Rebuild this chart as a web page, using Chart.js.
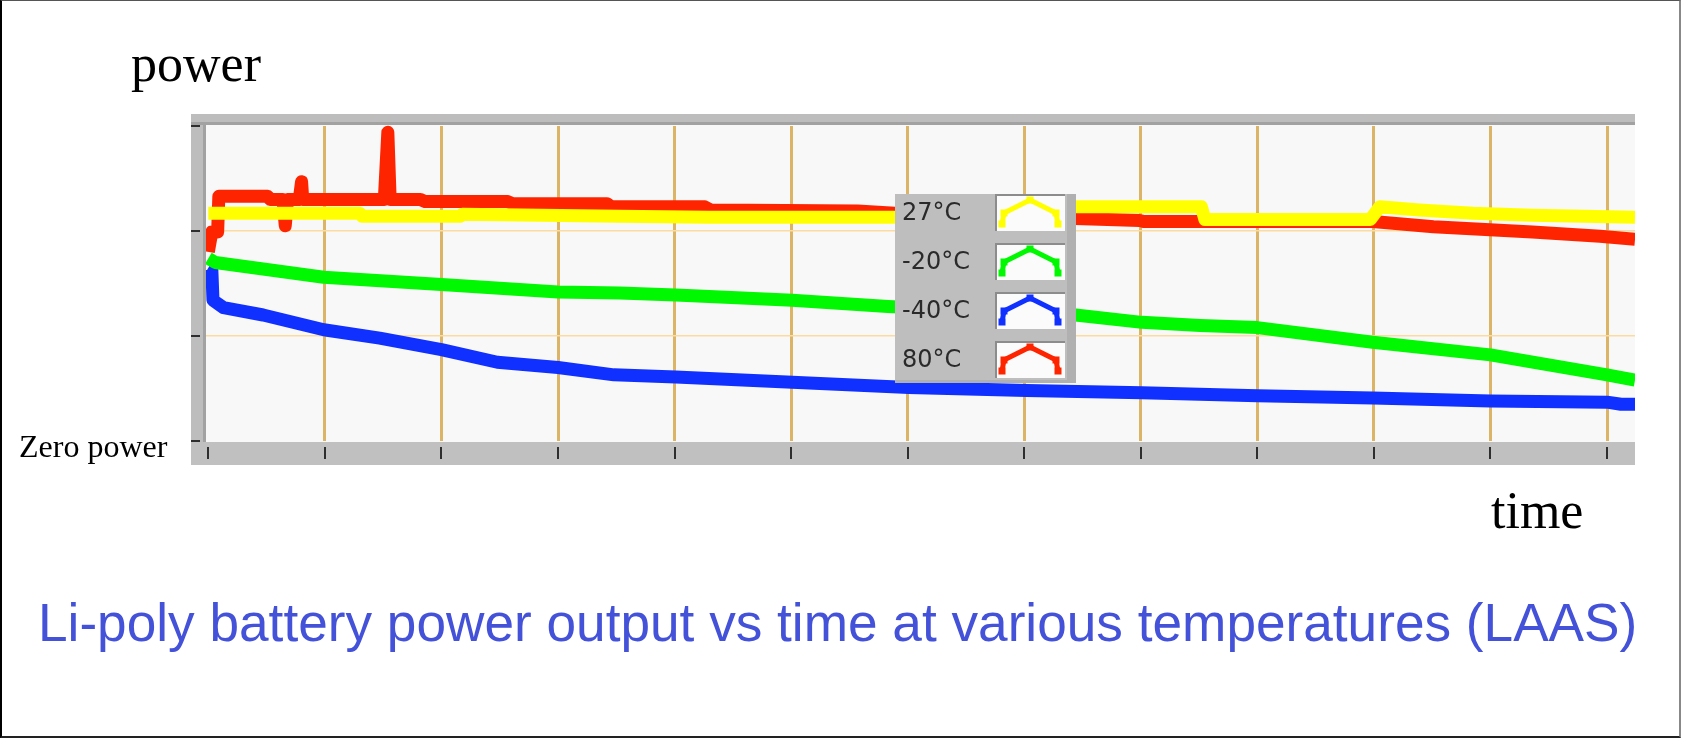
<!DOCTYPE html>
<html>
<head>
<meta charset="utf-8">
<title>Li-poly battery power output vs time</title>
<script src="https://cdn.jsdelivr.net/npm/chart.js@4.4.1/dist/chart.umd.min.js"></script>
<style>
  html, body { margin: 0; padding: 0; background: #fff; }
  #wrap { position: relative; width: 1682px; height: 739px; overflow: hidden; }
  #frame {
    position: absolute; left: 0; top: 0; width: 1677px; height: 735px;
    border-top: 1px solid #555; border-right: 2px solid #888;
    border-bottom: 2px solid #222; border-left: 2px solid #000;
  }
  #chart { position: absolute; left: 0; top: 0; }
  .lbl { position: absolute; white-space: nowrap; line-height: 1; }
  .serif { font-family: "Liberation Serif", "Times New Roman", serif; color: #000; }
  #yname { left: 131px; top: 38px; font-size: 52px; }
  #zero { left: 19px; top: 430px; font-size: 32px; }
  #xname { left: 1491px; top: 485px; font-size: 52px; }
  #caption {
    left: 38px; top: 596px; font-size: 53.2px; color: #4352d8;
    font-family: "Liberation Sans", Arial, sans-serif;
  }
</style>
</head>
<body>
<div id="wrap">
  <div id="frame"></div>
  <canvas id="chart" width="1682" height="739"></canvas>
  <div class="lbl serif" id="yname">power</div>
  <div class="lbl serif" id="zero">Zero power</div>
  <div class="lbl serif" id="xname">time</div>
  <div class="lbl" id="caption">Li-poly battery power output vs time at various temperatures (LAAS)</div>
</div>
<script>
// tick positions (no labels shown on the original axes)
const xTicks = [0, 1, 2, 3, 4, 5, 6, 7, 8, 9, 10, 11, 12];
const yTicks = [0, 1, 2, 3];

const seriesLabels = ['27°C', '-20°C', '-40°C', '80°C'];
const seriesColors = ['#ffff00', '#00f800', '#1030ff', '#ff2400'];

// 27°C
const time27 = [0, 1.30, 1.32, 2.16, 2.18, 3.53, 4.29, 5.89, 6.71, 8.52, 8.55, 9.97, 10.05, 10.39, 10.85, 11.36, 12.24];
const power27 = [2.17, 2.17, 2.14, 2.14, 2.16, 2.14, 2.13, 2.13, 2.23, 2.23, 2.11, 2.11, 2.23, 2.20, 2.17, 2.15, 2.13];

// -20°C
const timeM20 = [0, 0.06, 0.99, 2.00, 3.00, 3.53, 4.01, 5.01, 5.83, 7.44, 8.01, 8.51, 9.00, 9.99, 11.0, 12.0, 12.24];
const powerM20 = [1.74, 1.70, 1.56, 1.49, 1.42, 1.41, 1.39, 1.34, 1.28, 1.20, 1.13, 1.10, 1.08, 0.94, 0.82, 0.63, 0.58];

// -40°C
const timeM40 = [0, 0.03, 0.04, 0.13, 0.47, 0.99, 1.47, 2.00, 2.48, 3.00, 3.48, 4.01, 5.01, 6.01, 7.02, 8.01, 9.00, 9.99, 11.0, 12.0, 12.12, 12.24];
const powerM40 = [1.65, 1.63, 1.34, 1.27, 1.20, 1.06, 0.98, 0.87, 0.75, 0.70, 0.63, 0.61, 0.56, 0.51, 0.48, 0.46, 0.43, 0.41, 0.38, 0.37, 0.35, 0.35];

// 80°C
const time80 = [0, 0.03, 0.08, 0.09, 0.51, 0.53, 0.64, 0.66, 0.68, 0.78, 0.80, 0.81, 1.51, 1.54, 1.56, 1.82, 1.86, 2.57, 2.61, 3.42, 3.46, 4.26, 4.31, 5.57, 5.89, 7.44, 7.99, 8.03, 9.99, 10.51, 11.36, 11.94, 12.24];
const power80 = [1.80, 1.99, 1.99, 2.33, 2.33, 2.30, 2.30, 2.05, 2.30, 2.30, 2.47, 2.30, 2.30, 2.94, 2.30, 2.30, 2.28, 2.28, 2.26, 2.26, 2.23, 2.23, 2.20, 2.19, 2.17, 2.12, 2.10, 2.09, 2.09, 2.04, 1.99, 1.95, 1.92];

function pts(xs, ys) {
  return xs.map((x, i) => ({ x: x, y: ys[i] }));
}

const allSeries = [pts(time27, power27), pts(timeM20, powerM20), pts(timeM40, powerM40), pts(time80, power80)];

// grey LabVIEW-like frame, plot background and tick marks
const framePlugin = {
  id: 'frame',
  beforeDraw(chart) {
    const ctx = chart.ctx;
    const a = chart.chartArea;
    const xs = chart.scales.x, ys = chart.scales.y;
    ctx.save();
    ctx.fillStyle = '#bdbdbd';
    ctx.fillRect(a.left - 15, a.top - 12, a.right - a.left + 15, 12);
    ctx.fillRect(a.left - 15, a.top - 12, 15, a.bottom - a.top + 36);
    ctx.fillStyle = '#c0c0c0';
    ctx.fillRect(a.left - 15, a.bottom + 1, a.right - a.left + 15, 23);
    ctx.fillStyle = '#a2a2a2';
    ctx.fillRect(a.left - 15, a.top - 4, a.right - a.left + 15, 3);
    ctx.fillRect(a.left - 3, a.top - 4, 3, a.bottom - a.top + 5);
    ctx.fillStyle = '#f8f8f8';
    ctx.fillRect(a.left, a.top - 1, a.right - a.left, a.bottom - a.top + 2);
    ctx.fillStyle = '#2e2e2e';
    yTicks.forEach(v => {
      const y = Math.round(ys.getPixelForValue(v));
      ctx.fillRect(a.left - 15, y - 1, 9, 2);
    });
    xTicks.forEach(v => {
      const x = Math.round(xs.getPixelForValue(v));
      ctx.fillRect(x - 1, a.bottom + 6, 2, 12);
    });
    ctx.restore();
  }
};

// legend panel with the small "^" swatches
const legendPlugin = {
  id: 'panelLegend',
  afterDatasetsDraw(chart) {
    const ctx = chart.ctx;
    const bx = 895, by = 194, bw = 181, bh = 189;
    ctx.save();
    ctx.fillStyle = '#bebebe';
    ctx.fillRect(bx, by, bw, bh);
    ctx.fillStyle = '#b0b0b0';
    ctx.fillRect(bx + bw - 9, by, 9, bh);
    ctx.fillRect(bx, by + bh - 3, bw, 3);
    chart.data.datasets.forEach((ds, i) => {
      const top = by - 1 + i * 49;
      ctx.fillStyle = '#2a2a2a';
      ctx.font = '24px "DejaVu Sans", Tahoma, sans-serif';
      ctx.textBaseline = 'alphabetic';
      ctx.fillText(ds.label, bx + 7, top + 27);
      const sx = 995;
      ctx.fillStyle = '#fbfbfb';
      ctx.fillRect(sx, top + 1, 70, 37);
      ctx.fillStyle = '#8c8c8c';
      ctx.fillRect(sx, top + 1, 70, 2);
      ctx.fillRect(sx, top + 1, 2, 37);
      const p = [[7, 31], [9, 20], [35, 7], [61, 20], [63, 31]];
      ctx.strokeStyle = ds.borderColor;
      ctx.lineWidth = 5;
      ctx.lineJoin = 'round';
      ctx.beginPath();
      p.forEach((q, k) => k ? ctx.lineTo(sx + q[0], top + q[1]) : ctx.moveTo(sx + q[0], top + q[1]));
      ctx.stroke();
      ctx.fillStyle = ds.borderColor;
      p.forEach(q => ctx.fillRect(sx + q[0] - 3.5, top + q[1] - 3.5, 7, 7));
    });
    ctx.restore();
  }
};

const datasets = allSeries.map((d, i) => ({
  label: seriesLabels[i],
  data: d,
  borderColor: seriesColors[i],
  backgroundColor: seriesColors[i],
  borderWidth: 13,
  pointRadius: 0,
  tension: 0,
  fill: false,
  borderJoinStyle: 'round',
  clip: { left: 0, right: 0, top: false, bottom: false }
}));

new Chart(document.getElementById('chart'), {
  type: 'line',
  data: { datasets: datasets },
  options: {
    responsive: false,
    animation: false,
    events: [],
    layout: { padding: { left: 206, top: 126, right: 47, bottom: 298 } },
    plugins: { legend: { display: false }, tooltip: { enabled: false }, title: { display: false } },
    scales: {
      x: {
        type: 'linear', min: -0.02, max: 12.24,
        afterBuildTicks: s => { s.ticks = xTicks.map(v => ({ value: v })); },
        ticks: { display: false },
        border: { display: false },
        grid: {
          drawTicks: false, lineWidth: 3,
          color: c => c.tick && c.tick.value === 0 ? 'rgba(0,0,0,0)' : '#dcb466'
        }
      },
      y: {
        type: 'linear', min: 0, max: 3,
        afterBuildTicks: s => { s.ticks = yTicks.map(v => ({ value: v })); },
        ticks: { display: false },
        border: { display: false },
        grid: {
          drawTicks: false, lineWidth: 1.5,
          color: c => c.tick && (c.tick.value === 1 || c.tick.value === 2) ? '#fbdc9e' : 'rgba(0,0,0,0)'
        }
      }
    }
  },
  plugins: [framePlugin, legendPlugin]
});
</script>
</body>
</html>
